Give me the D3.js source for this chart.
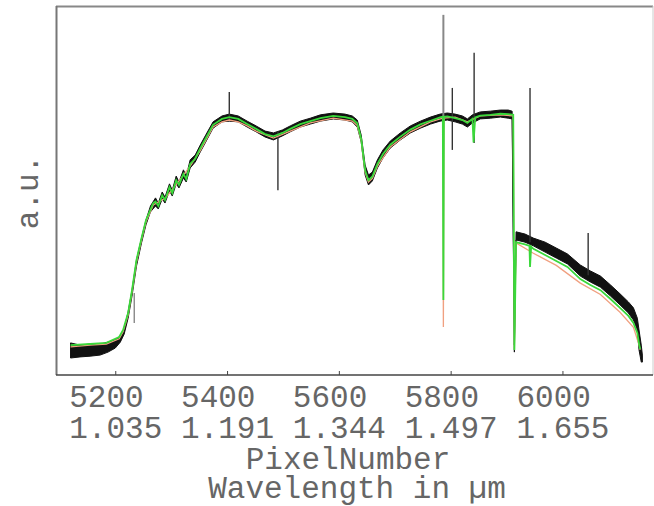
<!DOCTYPE html>
<html>
<head>
<meta charset="utf-8">
<script src="https://cdn.jsdelivr.net/npm/d3@7"></script>
<style>
  body { margin: 0; background: #fff; }
  svg { display: block; }
  text { font-family: "Liberation Mono", "DejaVu Sans Mono", monospace; fill: #666; }
</style>
</head>
<body>
<svg width="654" height="506"></svg>
<script>
// tick values on the pixel axis and the matching wavelengths
var pixelTicks = [5200, 5400, 5600, 5800, 6000];
var wavelengthLabels = ['1.035', '1.191', '1.344', '1.497', '1.655'];

// measured spectrum (black): pixel, upper edge, lower edge of the noisy band
var blackPix = [5120, 5137, 5155, 5173, 5187, 5200, 5209, 5216, 5223, 5230, 5238, 5247, 5255, 5263,
  5272, 5277, 5284, 5289, 5297, 5302, 5309, 5314, 5322, 5327, 5334, 5343, 5352, 5361, 5375, 5391,
  5404, 5420, 5436, 5452, 5468, 5483, 5499, 5513, 5531, 5549, 5567, 5590, 5611, 5624, 5633, 5640,
  5647, 5653, 5660, 5669, 5679, 5692, 5710, 5728, 5746, 5764, 5781, 5794, 5808, 5821, 5830, 5839,
  5853, 5871, 5889, 5903, 5910, 5914, 5917, 5933, 5948, 5969, 5989, 6009, 6032, 6050, 6068, 6086,
  6103, 6118, 6127, 6134, 6137, 6141, 6143];
var blackHigh = [8.7, 8.1, 8.4, 8.4, 8.9, 9.5, 10.6, 12.7, 17.1, 23.0, 31.2, 37.1, 42.0, 45.8,
  48.0, 46.6, 49.6, 48.2, 51.8, 50.1, 53.9, 52.3, 55.6, 53.9, 58.3, 59.6, 62.3, 64.8, 68.6, 70.2,
  70.7, 70.2, 68.8, 67.5, 66.1, 65.6, 66.4, 67.5, 68.8, 69.6, 70.5, 71.0, 70.7, 70.2, 69.1, 65.0,
  56.9, 54.2, 55.0, 58.3, 61.0, 63.4, 65.6, 67.5, 68.8, 69.9, 70.7, 71.0, 70.7, 70.2, 69.4, 70.5,
  71.3, 71.5, 71.8, 71.8, 71.5, 8.1, 38.8, 38.2, 37.1, 36.0, 34.4, 32.8, 29.8, 28.2, 26.8, 24.4,
  22.0, 19.8, 18.2, 15.4, 12.2, 8.1, 5.4];
var blackLow = [4.6, 4.9, 5.1, 5.4, 6.2, 7.3, 8.9, 11.1, 15.4, 21.4, 29.5, 35.8, 40.7, 44.2,
  45.8, 45.0, 47.7, 46.6, 49.9, 48.5, 51.8, 50.7, 53.4, 52.3, 56.1, 57.7, 60.4, 62.9, 66.9, 68.6,
  68.8, 68.6, 67.2, 65.9, 64.5, 63.7, 64.8, 65.9, 67.2, 68.0, 68.8, 69.4, 69.1, 68.6, 67.2, 63.1,
  54.2, 51.5, 52.6, 56.1, 58.8, 61.5, 63.7, 65.6, 66.9, 68.0, 68.8, 69.1, 68.6, 68.0, 67.2, 68.3,
  69.4, 69.6, 69.9, 69.6, 69.4, 6.2, 36.6, 36.0, 35.0, 33.3, 31.7, 30.1, 26.8, 25.2, 23.8, 21.4,
  19.0, 16.8, 14.9, 12.2, 6.8, 3.5, 3.5];

// narrow spikes in the measured spectrum: pixel, bottom, top
var spikePix = [5234, 5404, 5491, 5787, 5803, 5842, 5942, 6046];
var spikeLow = [14.1, 69.0, 50.1, 69.0, 61.0, 62.9, 36.0, 27.0];
var spikeHigh = [22.2, 76.7, 66.0, 97.6, 77.8, 87.3, 77.8, 38.5];

// model spectrum (green)
var greenPix = [5120, 5155, 5184, 5207, 5214, 5223, 5230, 5238, 5247, 5255, 5268, 5272, 5277,
  5284, 5289, 5297, 5302, 5309, 5314, 5322, 5327, 5334, 5343, 5352, 5361, 5375, 5391, 5404, 5420,
  5436, 5452, 5468, 5483, 5499, 5513, 5531, 5549, 5567, 5590, 5611, 5624, 5633, 5640, 5647, 5653,
  5660, 5669, 5679, 5692, 5710, 5728, 5746, 5764, 5781, 5786, 5787, 5788, 5794, 5808, 5821, 5830,
  5839, 5841, 5844, 5853, 5871, 5889, 5903, 5912, 5914, 5917, 5933, 5941, 5942, 5944, 5948, 5969,
  5989, 6009, 6032, 6050, 6068, 6086, 6103, 6118, 6127, 6134, 6137, 6139];
var greenVal = [8.1, 8.4, 8.7, 10.3, 12.2, 16.8, 23.0, 31.2, 37.1, 42.0, 46.6, 47.0, 45.8,
  48.7, 47.4, 50.9, 49.3, 52.8, 51.5, 54.5, 53.1, 57.2, 58.6, 61.4, 63.9, 67.8, 69.4, 69.9, 69.4,
  68.0, 66.7, 65.3, 64.7, 65.6, 66.7, 68.0, 68.8, 69.6, 70.2, 69.9, 69.4, 68.2, 64.0, 55.5, 52.8,
  53.8, 57.2, 59.9, 62.4, 64.6, 66.5, 67.9, 68.9, 69.8, 70.0, 20.3, 70.0, 70.1, 69.6, 69.1, 68.3,
  69.4, 63.0, 69.8, 70.3, 70.5, 70.8, 70.7, 70.5, 6.8, 36.0, 35.4, 35.0, 29.3, 34.8, 34.2, 32.5,
  30.9, 29.3, 26.0, 24.4, 23.0, 20.6, 18.2, 16.0, 14.1, 11.4, 8.5, 7.0];

// second model (orange), mostly hidden behind the green one
var orangePix = [5120, 5155, 5184, 5207, 5214, 5223, 5230, 5238, 5247, 5255, 5268, 5290, 5310,
  5334, 5352, 5375, 5391, 5404, 5420, 5436, 5452, 5483, 5513, 5549, 5590, 5624, 5633, 5640, 5647,
  5653, 5660, 5669, 5692, 5728, 5764, 5786, 5787, 5788, 5808, 5830, 5853, 5889, 5912, 5914, 5917,
  5948, 5989, 6032, 6068, 6103, 6127, 6137, 6139];
var orangeVal = [7.6, 8.1, 8.4, 9.8, 11.7, 16.3, 22.5, 30.6, 36.6, 41.5, 46.1, 48.0, 51.8,
  56.6, 60.8, 67.2, 68.6, 69.1, 68.6, 67.5, 66.1, 64.2, 66.1, 68.3, 69.6, 68.8, 67.6, 63.5, 55.0,
  52.3, 53.3, 56.6, 61.8, 65.9, 68.6, 69.6, 13.0, 69.6, 69.9, 68.6, 70.2, 70.5, 70.2, 7.0, 35.8,
  33.0, 29.7, 24.9, 21.8, 17.0, 12.9, 8.2, 6.8];

var svg = d3.select('svg');

var x = d3.scaleLinear().domain([5094, 6162]).range([56, 653]);
var y = d3.scaleLinear().domain([0, 100]).range([375, 6]);

svg.append('clipPath').attr('id', 'plot-clip')
  .append('rect').attr('x', 56).attr('y', 6).attr('width', 597).attr('height', 369);

var plot = svg.append('g').attr('clip-path', 'url(#plot-clip)');

// black measured band
var band = d3.area()
  .x(i => x(blackPix[i]))
  .y0(i => y(blackLow[i]))
  .y1(i => y(blackHigh[i]));
plot.append('path')
  .attr('d', band(d3.range(blackPix.length)))
  .attr('fill', '#111')
  .attr('stroke', '#111')
  .attr('stroke-width', 1);

// spikes
plot.selectAll('line.spike')
  .data(d3.range(spikePix.length))
  .enter().append('line')
  .attr('class', 'spike')
  .attr('x1', i => x(spikePix[i]))
  .attr('x2', i => x(spikePix[i]))
  .attr('y1', i => y(spikeLow[i]))
  .attr('y2', i => y(spikeHigh[i]))
  .attr('stroke', i => (spikePix[i] === 5787 || spikePix[i] === 5234) ? '#888' : '#333')
  .attr('stroke-width', i => spikePix[i] === 5787 ? 2 : 1.4);

var line = d3.line();

plot.append('path')
  .attr('d', line(orangePix.map((p, i) => [x(p), y(orangeVal[i])])))
  .attr('fill', 'none')
  .attr('stroke', '#f0a080')
  .attr('stroke-width', 1.3);

plot.append('path')
  .attr('d', line(greenPix.map((p, i) => [x(p), y(greenVal[i])])))
  .attr('fill', 'none')
  .attr('stroke', '#3ad83a')
  .attr('stroke-width', 1.8);

// frame
svg.append('line').attr('x1', 56).attr('x2', 653).attr('y1', 6.5).attr('y2', 6.5)
  .attr('stroke', '#888').attr('stroke-width', 2);
svg.append('line').attr('x1', 56.5).attr('x2', 56.5).attr('y1', 6).attr('y2', 375)
  .attr('stroke', '#777').attr('stroke-width', 2);
svg.append('line').attr('x1', 653).attr('x2', 653).attr('y1', 6).attr('y2', 375)
  .attr('stroke', '#ccc').attr('stroke-width', 1);

// bottom axis with pixel numbers and wavelengths
var xAxis = d3.axisBottom(x)
  .tickValues(pixelTicks)
  .tickSize(-4)
  .tickFormat('');
var axisG = svg.append('g')
  .attr('transform', 'translate(0,375)')
  .call(xAxis);
axisG.select('.domain').attr('stroke', '#444').attr('stroke-width', 1.5)
  .attr('d', 'M56,0H653');
axisG.selectAll('.tick line').attr('stroke', '#444');

axisG.selectAll('.tick').each(function(v, i) {
  var t = d3.select(this).append('text')
    .attr('text-anchor', 'start')
    .style('font-size', '31px');
  var w = t.append('tspan').attr('x', 0).attr('y', 63).text(wavelengthLabels[i]);
  var half = w.node().getComputedTextLength() / 2;
  w.attr('x', -half);
  t.insert('tspan', 'tspan').attr('x', -half).attr('y', 32).text(pixelTicks[i]);
});

svg.append('text')
  .attr('x', 348).attr('y', 469)
  .attr('text-anchor', 'middle')
  .style('font-size', '31px')
  .text('PixelNumber');

svg.append('text')
  .attr('x', 357).attr('y', 498)
  .attr('text-anchor', 'middle')
  .style('font-size', '31px')
  .text('Wavelength in µm');

svg.append('text')
  .attr('transform', 'translate(38,192) rotate(-90)')
  .attr('text-anchor', 'middle')
  .style('font-size', '31px')
  .text('a.u.');
</script>
</body>
</html>
